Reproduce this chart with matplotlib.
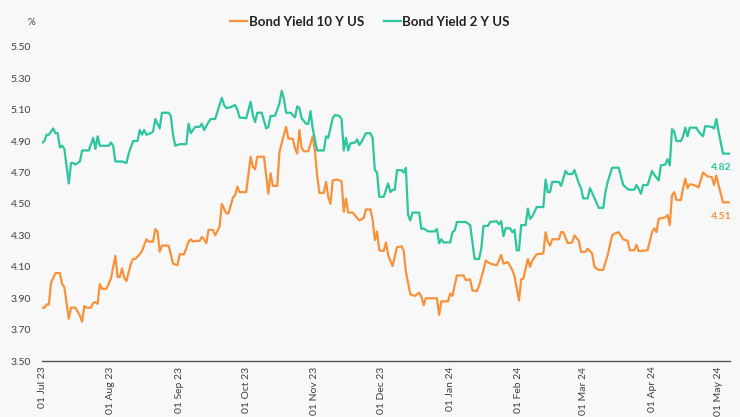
import numpy as np
import pandas as pd
import matplotlib.pyplot as plt
import matplotlib.dates as mdates

plt.rcParams["font.family"] = ["Lato", "DejaVu Sans"]

start = pd.Timestamp("2023-07-01")

# US 2Y yield, (days since 01 Jul 23, value)
d2 = [0, 1, 2, 3, 5, 6, 7, 8, 9, 10, 12, 13, 14, 15, 16, 17, 18, 21, 23, 24, 25, 26, 30, 31, 32, 33,
      36, 38, 39, 41, 43, 44, 45, 46, 47, 49, 50, 51, 53, 54, 57, 58, 59, 60, 62, 65, 66, 67, 69, 71,
      72, 73, 75, 76, 78, 81, 82, 83, 85, 87, 88, 89, 92, 94, 95, 96, 97, 99, 101, 102, 103, 105, 107,
      108, 109, 110, 112, 114, 115, 116, 117, 119, 120, 121, 122, 124, 127, 128, 129, 131, 132, 134,
      135, 136, 137, 138, 139, 141, 142, 143, 144, 146, 148, 149, 150, 151, 152, 154, 156, 157, 158,
      159, 160, 162, 163, 164, 165, 166, 167, 170, 171, 172, 174, 177, 178, 179, 180, 181, 184, 185,
      186, 187, 191, 193, 195, 197, 198, 199, 201, 202, 205, 206, 207, 208, 209, 211, 212, 213, 214,
      215, 216, 218, 219, 220, 221, 223, 226, 227, 228, 229, 230, 233, 234, 236, 237, 239, 240, 242,
      243, 244, 246, 247, 248, 251, 253, 254, 255, 257, 260, 262, 264, 265, 267, 268, 269, 270, 271,
      273, 275, 276, 278, 279, 281, 282, 283, 284, 285, 286, 288, 289, 290, 291, 292, 295, 296, 298,
      299, 302, 303, 304, 305, 307, 310]
y2 = [4.89, 4.90, 4.94, 4.94, 4.98, 4.95, 4.95, 4.86, 4.87, 4.85, 4.63, 4.76, 4.76, 4.75, 4.76, 4.77,
      4.84, 4.84, 4.92, 4.85, 4.93, 4.87, 4.87, 4.89, 4.87, 4.77, 4.77, 4.76, 4.82, 4.90, 4.90, 4.97,
      4.94, 4.97, 4.94, 4.95, 4.96, 5.04, 4.98, 5.08, 5.08, 5.06, 4.94, 4.87, 4.88, 4.88, 5.01, 4.95,
      4.99, 4.99, 5.01, 4.97, 5.02, 5.04, 5.04, 5.175, 5.13, 5.11, 5.115, 5.13, 5.10, 5.05, 5.045,
      5.15, 5.065, 5.02, 5.08, 5.08, 4.98, 4.99, 5.06, 5.06, 5.14, 5.22, 5.17, 5.08, 5.08, 5.05, 5.12,
      5.11, 5.045, 5.01, 5.01, 5.09, 4.98, 4.84, 4.84, 4.93, 4.92, 5.045, 5.065, 5.06, 5.04, 4.84,
      4.92, 4.84, 4.885, 4.89, 4.91, 4.875, 4.895, 4.95, 4.95, 4.92, 4.715, 4.70, 4.545, 4.545, 4.63,
      4.575, 4.59, 4.59, 4.715, 4.715, 4.70, 4.73, 4.43, 4.395, 4.445, 4.445, 4.34, 4.345, 4.325,
      4.325, 4.34, 4.25, 4.275, 4.255, 4.255, 4.32, 4.33, 4.385, 4.385, 4.365, 4.15, 4.15, 4.215,
      4.36, 4.36, 4.385, 4.39, 4.37, 4.39, 4.295, 4.345, 4.345, 4.32, 4.335, 4.205, 4.205, 4.365,
      4.365, 4.47, 4.405, 4.42, 4.48, 4.48, 4.655, 4.575, 4.575, 4.64, 4.64, 4.615, 4.71, 4.69, 4.69,
      4.715, 4.63, 4.60, 4.535, 4.535, 4.60, 4.57, 4.475, 4.475, 4.575, 4.64, 4.73, 4.73, 4.62, 4.595,
      4.59, 4.59, 4.62, 4.595, 4.565, 4.62, 4.62, 4.71, 4.685, 4.65, 4.745, 4.75, 4.785, 4.745, 4.975,
      4.96, 4.90, 4.90, 4.93, 4.985, 4.93, 4.985, 4.985, 4.96, 4.93, 4.995, 4.99, 4.98, 5.04, 4.96,
      4.82, 4.82]

# US 10Y yield
d10 = [0, 1, 2, 3, 4, 6, 8, 9, 10, 12, 13, 15, 17, 18, 19, 20, 22, 23, 24, 25, 26, 27, 29, 31, 33,
       34, 35, 36, 37, 38, 40, 41, 42, 44, 45, 47, 48, 50, 51, 52, 53, 54, 57, 58, 59, 61, 62, 64, 66,
       67, 68, 69, 71, 72, 73, 74, 75, 77, 78, 80, 81, 83, 84, 86, 87, 88, 89, 92, 94, 95, 96, 97, 100,
       101, 102, 103, 104, 106, 107, 109, 110, 111, 113, 114, 115, 116, 117, 118, 120, 122, 123, 124,
       125, 127, 128, 129, 130, 131, 133, 135, 136, 137, 138, 140, 143, 145, 146, 148, 149, 150, 151,
       152, 154, 155, 156, 158, 160, 162, 163, 164, 166, 168, 170, 171, 172, 173, 178, 179, 180, 183,
       184, 185, 186, 187, 190, 191, 193, 194, 196, 197, 199, 200, 202, 205, 207, 208, 210, 212, 213,
       215, 216, 217, 219, 220, 221, 223, 226, 227, 228, 229, 230, 233, 234, 235, 237, 239, 240, 242,
       243, 245, 246, 248, 249, 251, 253, 255, 257, 258, 260, 262, 264, 265, 267, 268, 269, 273, 275,
       276, 277, 278, 281, 282, 283, 284, 285, 286, 288, 289, 290, 291, 292, 294, 296, 298, 300, 302,
       303, 304, 305, 307, 310]
y10 = [3.84, 3.84, 3.86, 3.86, 4.00, 4.06, 4.06, 3.99, 3.97, 3.77, 3.84, 3.84, 3.79, 3.75, 3.85, 3.84,
       3.84, 3.87, 3.875, 3.865, 3.99, 3.96, 3.96, 4.025, 4.17, 4.035, 4.035, 4.09, 4.03, 4.01, 4.12,
       4.15, 4.15, 4.18, 4.20, 4.275, 4.26, 4.26, 4.34, 4.325, 4.195, 4.235, 4.235, 4.18, 4.12, 4.11,
       4.18, 4.18, 4.26, 4.275, 4.26, 4.265, 4.265, 4.29, 4.275, 4.25, 4.335, 4.335, 4.30, 4.355, 4.50,
       4.44, 4.44, 4.54, 4.555, 4.61, 4.575, 4.575, 4.80, 4.735, 4.72, 4.80, 4.80, 4.68, 4.565, 4.695,
       4.615, 4.615, 4.83, 4.94, 4.99, 4.915, 4.915, 4.855, 4.82, 4.97, 4.855, 4.835, 4.835, 4.93,
       4.835, 4.68, 4.57, 4.57, 4.64, 4.545, 4.50, 4.65, 4.655, 4.645, 4.45, 4.535, 4.445, 4.445,
       4.395, 4.41, 4.465, 4.465, 4.40, 4.27, 4.325, 4.205, 4.20, 4.255, 4.175, 4.105, 4.225, 4.23,
       4.205, 4.07, 3.925, 3.915, 3.935, 3.91, 3.855, 3.90, 3.90, 3.795, 3.88, 3.88, 3.93, 3.915, 3.98,
       4.045, 4.045, 4.015, 4.02, 3.95, 3.945, 3.98, 4.08, 4.14, 4.12, 4.11, 4.175, 4.12, 4.13, 4.08,
       4.04, 3.885, 4.02, 4.025, 4.15, 4.10, 4.14, 4.18, 4.185, 4.32, 4.26, 4.235, 4.275, 4.275, 4.32,
       4.32, 4.25, 4.255, 4.30, 4.265, 4.195, 4.195, 4.215, 4.185, 4.10, 4.08, 4.08, 4.175, 4.30, 4.31,
       4.32, 4.275, 4.265, 4.205, 4.205, 4.24, 4.20, 4.205, 4.32, 4.345, 4.32, 4.405, 4.415, 4.43,
       4.365, 4.555, 4.575, 4.525, 4.525, 4.60, 4.66, 4.60, 4.625, 4.62, 4.605, 4.70, 4.675, 4.67,
       4.62, 4.68, 4.62, 4.51, 4.51]

month_ticks = pd.date_range("2023-07-01", "2024-05-01", freq="MS")
yticks = np.arange(3.5, 5.51, 0.2)

c10 = "#f7923a"
c2 = "#2cc59f"

dates2 = start + pd.to_timedelta(d2, unit="D")
dates10 = start + pd.to_timedelta(d10, unit="D")

fig = plt.figure(figsize=(7.4, 4.17), dpi=100, facecolor="#f8f8f8")
ax = fig.add_axes([0.057, 0.134, 0.929, 0.754])
ax.set_facecolor("#f8f8f8")

ax.plot(dates10, y10, color=c10, lw=1.6, label="Bond Yield 10 Y US")
ax.plot(dates2, y2, color=c2, lw=1.6, label="Bond Yield 2 Y US")

ax.set_xlim(start, start + pd.Timedelta(days=310))
ax.set_ylim(3.5, 5.5)
ax.set_yticks(yticks)
ax.set_yticklabels([f"{v:.2f}" for v in yticks])
ax.set_xticks(month_ticks)
ax.xaxis.set_major_formatter(mdates.DateFormatter("%d %b %y"))
ax.tick_params(axis="x", rotation=90, length=0, pad=4, labelsize=7.5, colors="#404040")
ax.tick_params(axis="y", length=0, pad=8, labelsize=7.5, colors="#404040")

for s in ["top", "right", "left"]:
    ax.spines[s].set_visible(False)
ax.spines["bottom"].set_color("#555555")
ax.spines["bottom"].set_linewidth(1.0)

# last values
ax.annotate(f"{y2[-1]:.2f}", (dates2[-1], y2[-1]), xytext=(-6, -10), textcoords="offset points",
            ha="center", va="center", fontsize=7.5, fontweight="bold", color=c2)
ax.annotate(f"{y10[-1]:.2f}", (dates10[-1], y10[-1]), xytext=(-6, -10), textcoords="offset points",
            ha="center", va="center", fontsize=7.5, fontweight="bold", color=c10)

fig.text(0.043, 0.945, "%", fontsize=7, color="#404040", ha="center", va="center")

leg = fig.legend(loc="center", bbox_to_anchor=(0.5, 0.948), ncol=2, frameon=False,
                 handlelength=1.3, handletextpad=0.1, columnspacing=1.5,
                 prop={"weight": "bold", "size": 9.5})
for t in leg.get_texts():
    t.set_color("#222222")

fig.savefig("out.png", dpi=100, facecolor=fig.get_facecolor())
